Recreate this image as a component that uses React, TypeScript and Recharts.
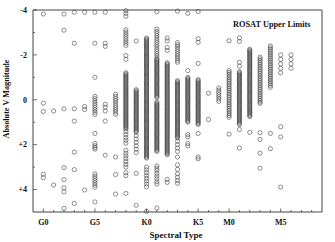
import { ScatterChart, Scatter, XAxis, YAxis } from 'recharts';

// spectral type index on x, absolute V magnitude on y
const SPECTRAL_TYPES = [
  'G0', 'G1', 'G2', 'G3', 'G4', 'G5', 'G6', 'G7', 'G8', 'G9',
  'K0', 'K1', 'K2', 'K3', 'K4', 'K5', 'K6', 'K7',
  'M0', 'M1', 'M2', 'M3', 'M4', 'M5', 'M6', 'M7', 'M8',
];
const LABELED_TYPES = ['G0', 'G5', 'K0', 'K5', 'M0', 'M5'];
const MAG_TICKS = [-4, -3, -2, -1, 0, 1, 2, 3, 4];

const magG0 = [-3.82, 0.15, 0.52, 3.32, 3.47];
const magG1 = [0.5, 3.8];
const magG2 = [-3.82, -3.1, 0.4, 3.02, 3.56, 3.93, 4.1, 4.84];
const magG3 = [-3.9, -2.52, 0.4, 0.95, 2.33, 3.11, 4.62];
const magG4 = [-3.9, 0.3, 0.43, 4.02];
const magG5 = [-3.9, -2.52, -1.0, -0.15, -0.05, 0.05, 0.15, 0.25, 0.35, 0.45, 0.55, 0.65,
  1.5, 1.95, 2.05, 2.13, 2.2, 3.3, 3.4, 3.5, 3.6, 3.7, 3.8, 3.9, 4.55];
const magG6 = [-3.9, -2.52, -2.38, 0.2, 0.33, 0.5, 0.95, 2.47];
const magG7 = [-0.25, -0.15, -0.05, 0.05, 0.15, 0.25, 0.35, 0.45, 0.55, 0.65, 2.55, 3.33, 4.2];
const magG8 = [-3.97, -3.85, -3.72, -3.12, -3.02, -2.92, -2.82, -2.72, -2.62, -2.52, -2.42, -1.97, -1.8,
  -1.2, -1.15, -1.1, -1.05, -1, -0.95, -0.9, -0.85, -0.8, -0.75, -0.7, -0.65, -0.6, -0.55, -0.5, -0.45,
  -0.4, -0.35, -0.3, -0.25, -0.2, -0.15, -0.1, -0.05, 0, 0.05, 0.1, 0.15, 0.2, 0.25, 0.3, 0.35, 0.4,
  0.45, 0.5, 0.55, 0.6, 0.65, 0.7, 0.75, 0.8, 0.85, 0.9, 0.95, 1, 1.05, 1.1, 1.15, 1.2, 1.25, 1.3,
  1.42, 1.55, 1.68, 1.8, 1.93, 2.25, 2.38, 2.5, 2.62, 2.75, 2.88, 3.0, 3.25, 3.38, 4.17];
const magG9 = [-2.62, -0.45, -0.4, -0.35, -0.3, -0.25, -0.2, -0.15, -0.1, -0.05, 0, 0.05, 0.1, 0.15,
  0.2, 0.25, 0.3, 0.35, 0.4, 0.45, 0.5, 0.55, 0.6, 0.65, 0.7, 0.75, 0.8, 0.85, 0.9, 0.95, 1, 1.05,
  1.1, 1.15, 1.2, 1.25, 1.3, 1.35, 1.4, 1.45, 1.6, 1.75, 1.9, 2.05, 2.2, 2.35, 3.28, 4.7];
const magK0 = [-2.75, -2.7, -2.65, -2.6, -2.55, -2.5, -2.45, -2.4, -2.35, -2.3, -2.25, -2.2, -2.15,
  -2.1, -2.05, -2, -1.95, -1.9, -1.85, -1.8, -1.75, -1.7, -1.65, -1.6, -1.55, -1.5, -1.45, -1.4,
  -1.35, -1.3, -1.25, -1.2, -1.15, -1.1, -1.05, -1, -0.95, -0.9, -0.85, -0.8, -0.75, -0.7, -0.65,
  -0.6, -0.55, -0.5, -0.45, -0.4, -0.35, -0.3, -0.25, -0.2, -0.15, -0.1, -0.05, 0, 0.05, 0.1, 0.15,
  0.2, 0.25, 0.3, 0.35, 0.4, 0.45, 0.5, 0.55, 0.6, 0.65, 0.7, 0.75, 0.8, 0.85, 0.9, 0.95, 1, 1.05,
  1.1, 1.15, 1.2, 1.25, 1.3, 1.35, 1.4, 1.45, 1.5, 1.55, 1.6, 1.65, 1.7, 1.75, 1.8, 1.85, 1.9, 1.95,
  2, 2.05, 2.1, 2.15, 2.2, 2.25, 2.3, 2.35, 2.4, 2.45, 2.5, 2.55, 2.6,
  3.0, 3.12, 3.25, 3.38, 3.5, 3.62, 3.75, 3.88, 4.97];
const magK1 = [-3.92, -3.15, -3.05, -2.95, -2.85, -2.75, -2.65, -2.55, -2.45, -2.35, -2.25, -2.15,
  -2.05, -1.95, -1.85, -1.8, -1.75, -1.7, -1.65, -1.6, -1.55, -1.5, -1.45, -1.4, -1.35, -1.3, -1.25,
  -1.2, -1.15, -1.1, -1.05, -1, -0.95, -0.9, -0.85, -0.8, -0.75, -0.7, -0.65, -0.6, -0.55, -0.5,
  -0.45, -0.4, -0.35, -0.3, -0.25, -0.2, -0.15, -0.1, 0.1, 0.15, 0.2, 0.25, 0.3, 0.35, 0.4, 0.45,
  0.5, 0.55, 0.6, 0.65, 0.7, 0.75, 0.8, 0.85, 0.9, 0.95, 1, 1.05, 1.1, 1.15, 1.2, 1.25, 1.3, 1.35,
  1.4, 1.45, 1.5, 1.55, 1.6, 1.65, 1.7, 1.75, 1.8, 1.85, 1.9, 1.95, 2, 2.05, 2.1, 2.15, 2.2, 2.25,
  2.3, 2.95, 3.05, 3.15, 3.28, 3.4, 3.52, 3.65, 3.75, 4.82];
const magK2 = [-2.75, -2.62, -2.33, -2.2, -1.65, -1.6, -1.55, -1.5, -1.45, -1.4, -1.35, -1.3, -1.25,
  -1.2, -1.15, -1.1, -1.05, -1, -0.95, -0.9, -0.85, -0.8, -0.75, -0.7, -0.65, -0.6, -0.55, -0.5,
  -0.45, -0.4, -0.35, -0.3, -0.25, -0.2, -0.15, -0.1, -0.05, 0, 0.05, 0.1, 0.15, 0.2, 0.25, 0.3,
  0.35, 0.4, 0.45, 0.5, 0.55, 0.6, 0.65, 0.7, 0.75, 0.8, 0.85, 0.9, 0.95, 1, 1.05, 1.1, 1.15, 1.2,
  1.25, 1.3, 1.35, 1.4, 1.45, 1.5, 1.55, 1.6, 1.65, 1.7, 1.75, 1.8, 1.85, 1.9, 1.95, 2, 2.05, 2.1,
  2.15, 2.2, 2.25, 2.3, 2.35, 2.4, 2.45, 3.55, 3.68];
const magK3 = [-3.95, -2.55, -2.45, -2.35, -2.25, -2.15, -2.05, -1.95, -1.85, -1.75, -1.67,
  -0.85, -0.8, -0.75, -0.7, -0.65, -0.6, -0.55, -0.5, -0.45, -0.4, -0.35, -0.3, -0.25, -0.2, -0.15,
  -0.1, -0.05, 0, 0.05, 0.1, 0.15, 0.2, 0.25, 0.3, 0.35, 0.4, 0.45, 0.5, 0.55, 0.6, 0.65, 0.7, 0.75,
  0.8, 0.85, 0.9, 0.95, 1, 1.05, 1.1, 1.15, 1.2, 1.25, 1.3, 1.35, 1.4, 1.45, 1.5, 1.55, 1.6, 1.65,
  1.7, 1.85, 2.0, 2.15, 2.3, 2.55, 2.9, 3.1, 3.3, 3.45, 3.6, 3.72];
const magK4 = [-3.85, -1.3, -1, -0.95, -0.9, -0.85, -0.8, -0.75, -0.7, -0.65, -0.6, -0.55, -0.5,
  -0.45, -0.4, -0.35, -0.3, -0.25, -0.2, -0.15, -0.1, -0.05, 0, 0.05, 0.1, 0.15, 0.2, 0.25, 0.3,
  0.35, 0.4, 0.45, 0.5, 0.55, 0.6, 0.65, 0.7, 0.75, 0.8, 0.85, 0.9, 0.95, 1, 1.55, 1.65, 1.95, 2.05];
const magK5 = [-3.93, -2.72, -2.56, -1.62, -0.9, -0.85, -0.8, -0.75, -0.7, -0.65, -0.6, -0.55, -0.5,
  -0.45, -0.4, -0.35, -0.3, -0.25, -0.2, -0.15, -0.1, -0.05, 0, 0.05, 0.1, 0.15, 0.2, 0.25, 0.3,
  0.35, 0.4, 0.45, 0.5, 0.55, 0.6, 0.65, 0.7, 0.75, 0.8, 0.85, 0.9, 0.95, 1, 1.05, 1.1, 1.5, 2.55, 2.63];
const magK6 = [-0.29, 0.88];
const magK7 = [-0.53, -0.43, -0.33, -0.23, -0.13, -0.03, 0.07];
const magM0 = [-2.63, -1.3, -1.22, -1.14, -1.06, -0.98, -0.9, -0.82, -0.74, -0.66, -0.58, -0.5, -0.42,
  -0.34, -0.26, -0.18, -0.1, -0.02, 0.06, 0.14, 0.22, 0.3, 0.38, 0.46, 0.54, 0.62, 0.7, 0.78, 1.53];
const magM1 = [-2.76, -2.6, -1.67, -1.5, -1.25, -1.2, -1.15, -1.1, -1.05, -1, -0.95, -0.9, -0.85,
  -0.8, -0.75, -0.7, -0.65, -0.6, -0.55, -0.5, -0.45, -0.4, -0.35, -0.3, -0.25, -0.2, -0.15, -0.1,
  -0.05, 0, 0.05, 0.1, 0.15, 0.2, 0.25, 0.3, 0.35, 0.4, 0.45, 0.5, 0.55, 0.6, 0.65, 0.7, 0.75, 0.8,
  0.85, 0.9, 0.95, 1, 1.05, 1.1, 1.32, 2.15];
const magM2 = [-2.25, -2.2, -2.15, -2.1, -2.05, -2, -1.95, -1.9, -1.85, -1.8, -1.75, -1.7, -1.65,
  -1.6, -1.55, -1.5, -1.45, -1.4, -1.35, -1.3, -1.25, -1.2, -1.15, -1.1, -1.05, -1, -0.95, -0.9,
  -0.85, -0.8, -0.75, -0.7, -0.65, -0.6, -0.55, -0.5, -0.45, -0.4, -0.35, -0.3, -0.25, -0.2, -0.15,
  -0.1, -0.05, 0, 0.05, 0.1, 0.15, 0.2, 0.25, 0.3, 0.35, 0.4, 0.45, 0.5, 0.55, 0.6, 0.65, 0.7, 0.75, 1.45];
const magM3 = [-1.9, -1.82, -1.74, -1.66, -1.58, -1.5, -1.42, -1.34, -1.26, -1.18, -1.1, -1.02, -0.94,
  -0.86, -0.78, -0.7, -0.62, -0.54, -0.46, -0.38, -0.3, -0.22, -0.14, -0.06, 0.02, 0.1, 0.16,
  1.47, 1.77, 2.38, 3.05];
const magM4 = [-2.4, -2.32, -2.24, -2.16, -2.08, -2, -1.92, -1.84, -1.76, -1.68, -1.6, -1.52, -1.44,
  -1.36, -1.28, -1.2, -1.12, -1.04, -0.96, -0.88, -0.8, -0.72, -0.64, -0.56, 1.5, 2.18];
const magM5 = [-2.0, -1.8, -1.6, -1.4, -1.2, 1.2, 1.66, 3.89];
const magM6 = [-2.0, -1.8, -1.6, -1.4];

const COLUMNS = [
  magG0, magG1, magG2, magG3, magG4, magG5, magG6, magG7, magG8, magG9,
  magK0, magK1, magK2, magK3, magK4, magK5, magK6, magK7,
  magM0, magM1, magM2, magM3, magM4, magM5, magM6,
];

const points = COLUMNS.flatMap((mags, i) => mags.map((m) => ({ type: i, mag: m })));
const typeTicks = SPECTRAL_TYPES.map((_, i) => i);

const INK = '#444';
const FRAME = '#444';
const FONT = "'Liberation Serif', 'Times New Roman', serif";

const magLabel = (v: number) => (v === 0 ? '0' : v > 0 ? `+${v}` : `${v}`);

function BottomTick({ x, y, payload }: any) {
  const name = SPECTRAL_TYPES[payload.value];
  const major = LABELED_TYPES.includes(name);
  return (
    <g>
      <line x1={x} x2={x} y1={y} y2={y - (major ? 3.5 : 2)} stroke={FRAME} strokeWidth={0.8} />
      {major && (
        <text x={x} y={y + 13} textAnchor="middle" fontFamily={FONT} fontWeight="bold" fontSize={8} fill="#111">
          {name}
        </text>
      )}
    </g>
  );
}

function TopTick({ x, y, payload }: any) {
  const major = LABELED_TYPES.includes(SPECTRAL_TYPES[payload.value]);
  return <line x1={x} x2={x} y1={y} y2={y + (major ? 3.5 : 2)} stroke={FRAME} strokeWidth={0.8} />;
}

function LeftTick({ x, y, payload }: any) {
  const major = payload.value % 2 === 0;
  return (
    <g>
      <line x1={x} x2={x + (major ? 4 : 2)} y1={y} y2={y} stroke={FRAME} strokeWidth={0.8} />
      {major && (
        <text x={x - 6} y={y} dy="0.35em" textAnchor="end" fontFamily={FONT} fontWeight="bold" fontSize={8} fill="#111">
          {magLabel(payload.value)}
        </text>
      )}
    </g>
  );
}

function RightTick({ x, y, payload }: any) {
  const major = payload.value % 2 === 0;
  return <line x1={x} x2={x - (major ? 4 : 2)} y1={y} y2={y} stroke={FRAME} strokeWidth={0.8} />;
}

const ring = (p: any) => (
  <circle cx={p.cx} cy={p.cy} r={2.1} fill="none" stroke={INK} strokeWidth={0.6} />
);

export default function App() {
  return (
    <div style={{ position: 'absolute', left: 0, top: 0, width: 335, height: 242, background: '#fff' }}>
      <ScatterChart width={335} height={242} margin={{ top: 9, right: 12, bottom: 0, left: 0 }}>
        <XAxis
          xAxisId="b"
          dataKey="type"
          type="number"
          domain={[-1, 27]}
          ticks={typeTicks}
          interval={0}
          tickSize={0}
          tickMargin={0}
          tickLine={false}
          tick={BottomTick}
          height={30}
          axisLine={{ stroke: FRAME }}
        />
        <XAxis
          xAxisId="t"
          orientation="top"
          dataKey="type"
          type="number"
          domain={[-1, 27]}
          ticks={typeTicks}
          interval={0}
          tickSize={0}
          tickMargin={0}
          tickLine={false}
          tick={TopTick}
          height={1}
          axisLine={{ stroke: FRAME }}
        />
        <YAxis
          yAxisId="l"
          dataKey="mag"
          type="number"
          domain={[-4, 5]}
          reversed
          ticks={MAG_TICKS}
          interval={0}
          tickSize={0}
          tickMargin={0}
          tickLine={false}
          tick={LeftTick}
          width={33}
          axisLine={{ stroke: FRAME }}
        />
        <YAxis
          yAxisId="r"
          orientation="right"
          dataKey="mag"
          type="number"
          domain={[-4, 5]}
          reversed
          ticks={MAG_TICKS}
          interval={0}
          tickSize={0}
          tickMargin={0}
          tickLine={false}
          tick={RightTick}
          width={1}
          axisLine={{ stroke: FRAME }}
        />
        <Scatter xAxisId="b" yAxisId="l" data={points} shape={ring} isAnimationActive={false} />
        <Scatter xAxisId="t" yAxisId="r" data={[]} isAnimationActive={false} />
      </ScatterChart>
      <div
        style={{
          position: 'absolute', left: 6, top: 99, transform: 'translate(-50%, -50%) rotate(-90deg)',
          whiteSpace: 'nowrap', fontFamily: FONT, fontWeight: 'bold', fontSize: 8.2, color: '#111',
        }}
      >
        Absolute V Magnitude
      </div>
      <div
        style={{
          position: 'absolute', left: 176, top: 235, transform: 'translate(-50%, -50%)',
          whiteSpace: 'nowrap', fontFamily: FONT, fontWeight: 'bold', fontSize: 9, color: '#111',
        }}
      >
        Spectral Type
      </div>
      <div
        style={{
          position: 'absolute', left: 233, top: 24, transform: 'translateY(-50%)',
          whiteSpace: 'nowrap', fontFamily: FONT, fontWeight: 'bold', fontSize: 8.3, color: '#111',
        }}
      >
        ROSAT Upper Limits
      </div>
    </div>
  );
}
